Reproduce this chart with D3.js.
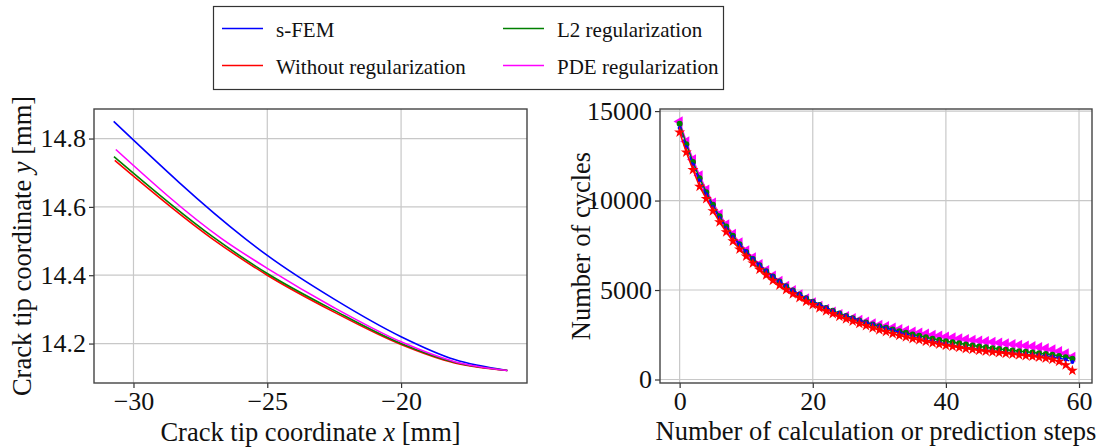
<!DOCTYPE html>
<html>
<head>
<meta charset="utf-8">
<script src="https://cdn.jsdelivr.net/npm/d3@7/dist/d3.min.js"></script>
<style>
  html, body { margin: 0; padding: 0; background: #fff; }
  svg { display: block; }
  svg text { font-family: "Liberation Serif", "Times New Roman", serif !important; fill: #111; }
</style>
</head>
<body>
<svg id="chart" width="1105" height="448"></svg>
<script>
// ---- Series names and colours ----
const seriesNames = ["s-FEM", "Without regularization", "L2 regularization", "PDE regularization"];
const seriesColors = ["#0000ff", "#ff0000", "#008000", "#ff00ff"];

// ---- Left panel: crack tip path (x, y in mm) ----
const pathX_sfem = [-30.74, -25.84, -25.0, -22.5, -20.0, -18.0, -16.03];
const pathY_sfem = [14.850, 14.508, 14.458, 14.330, 14.220, 14.153, 14.121];
const pathX_noreg = [-30.70, -27.08, -25.0, -22.5, -20.0, -18.0, -16.03];
const pathY_noreg = [14.736, 14.508, 14.400, 14.292, 14.197, 14.143, 14.121];
const pathX_l2 = [-30.73, -27.03, -25.0, -22.5, -20.0, -18.0, -16.03];
const pathY_l2 = [14.747, 14.512, 14.405, 14.297, 14.200, 14.145, 14.121];
const pathX_pde = [-30.66, -26.72, -25.0, -22.5, -20.0, -18.0, -16.03];
const pathY_pde = [14.768, 14.508, 14.420, 14.305, 14.205, 14.147, 14.121];

const leftXTicks = [-30, -25, -20];
const leftYTicks = [14.2, 14.4, 14.6, 14.8];

// ---- Right panel: number of cycles per step ----
const cycles_sfem = [14050, 12980, 12000, 11120, 10350, 9650, 9020, 8450, 7970, 7540,
  7150, 6760, 6400, 6070, 5770, 5490, 5230, 4990, 4770, 4560,
  4370, 4190, 4020, 3860, 3710, 3570, 3440, 3310, 3190, 3080,
  2970, 2870, 2770, 2640, 2530, 2430, 2330, 2240, 2150, 2070,
  1990, 1920, 1850, 1790, 1730, 1680, 1630, 1590, 1550, 1510,
  1480, 1450, 1420, 1390, 1360, 1320, 1270, 1200, 1110, 980];
const cycles_noreg = [13820, 12700, 11720, 10780, 10100, 9420, 8800, 8240, 7730, 7280,
  6880, 6500, 6150, 5830, 5530, 5260, 5010, 4780, 4560, 4360,
  4170, 3990, 3830, 3670, 3520, 3380, 3250, 3120, 3000, 2880,
  2770, 2660, 2560, 2460, 2370, 2280, 2200, 2120, 2040, 1970,
  1900, 1840, 1780, 1720, 1670, 1620, 1570, 1530, 1490, 1450,
  1410, 1370, 1330, 1290, 1240, 1190, 1110, 1000, 810, 500];
const cycles_l2 = [14290, 13150, 12150, 11250, 10470, 9760, 9120, 8550, 8030, 7560,
  7130, 6740, 6380, 6050, 5750, 5470, 5210, 4970, 4750, 4540,
  4350, 4170, 4000, 3840, 3690, 3550, 3420, 3300, 3190, 3080,
  2980, 2890, 2800, 2700, 2610, 2520, 2440, 2360, 2280, 2210,
  2140, 2080, 2020, 1960, 1900, 1850, 1800, 1750, 1700, 1660,
  1620, 1580, 1550, 1510, 1470, 1430, 1380, 1320, 1250, 1160];
const cycles_pde = [14420, 13300, 12300, 11400, 10600, 9880, 9240, 8660, 8130, 7650,
  7210, 6810, 6440, 6100, 5790, 5500, 5230, 4980, 4750, 4520,
  4300, 4110, 3940, 3790, 3650, 3530, 3420, 3320, 3220, 3130,
  3050, 2970, 2890, 2810, 2740, 2670, 2610, 2550, 2490, 2440,
  2390, 2340, 2290, 2250, 2210, 2170, 2130, 2090, 2050, 2010,
  1970, 1930, 1890, 1850, 1800, 1740, 1670, 1580, 1450, 1260];

const rightXTicks = [0, 20, 40, 60];
const rightYTicks = [0, 5000, 10000, 15000];

// ---- Layout ----
const svg = d3.select("#chart");
const SERIF = '"Liberation Serif", "Times New Roman", serif';
const TICK_FONT = 26, LABEL_FONT = 26.5, LEGEND_FONT = 21;
const left = { x0: 94, x1: 527, y0: 109, y1: 383 };
const right = { x0: 660, x1: 1092, y0: 109, y1: 383 };

// matplotlib-style 5% margin around the data extent
function padded(values) {
  const [a, b] = d3.extent(values);
  const m = (b - a) * 0.05;
  return [a - m, b + m];
}

function drawFrame(box, xScale, yScale, xTicks, yTicks, fmtX, fmtY) {
  const g = svg.append("g");
  g.selectAll(".gx").data(xTicks).join("line")
    .attr("x1", d => xScale(d)).attr("x2", d => xScale(d))
    .attr("y1", box.y0).attr("y2", box.y1)
    .attr("stroke", "#c8c8c8").attr("stroke-width", 1.2);
  g.selectAll(".gy").data(yTicks).join("line")
    .attr("x1", box.x0).attr("x2", box.x1)
    .attr("y1", d => yScale(d)).attr("y2", d => yScale(d))
    .attr("stroke", "#c8c8c8").attr("stroke-width", 1.2);

  const xAxis = d3.axisBottom(xScale).tickValues(xTicks).tickSize(5).tickPadding(4).tickFormat(fmtX);
  const yAxis = d3.axisLeft(yScale).tickValues(yTicks).tickSize(5).tickPadding(3).tickFormat(fmtY);
  const ax = svg.append("g").attr("transform", `translate(0,${box.y1})`).call(xAxis);
  const ay = svg.append("g").attr("transform", `translate(${box.x0},0)`).call(yAxis);
  [ax, ay].forEach(a => {
    a.attr("font-family", SERIF).attr("font-size", TICK_FONT);
    a.select(".domain").remove();
    a.selectAll(".tick line").attr("stroke", "#333").attr("stroke-width", 1.2);
    a.selectAll(".tick text")
      .style("font-family", SERIF)
      .attr("font-size", TICK_FONT).attr("fill", "#111");
  });
}

function drawBorder(box) {
  svg.append("rect")
    .attr("x", box.x0).attr("y", box.y0)
    .attr("width", box.x1 - box.x0).attr("height", box.y1 - box.y0)
    .attr("fill", "none").attr("stroke", "#444").attr("stroke-width", 1.4);
}

function label(text) {
  return svg.append("text").style("font-family", SERIF).attr("font-size", LABEL_FONT)
    .attr("text-anchor", "middle").html(text);
}

const minusFmt = d => d3.format("")(d).replace("-", "\u2212");

// ================= Left panel =================
const leftPaths = [
  { xs: pathX_sfem, ys: pathY_sfem, c: seriesColors[0] },
  { xs: pathX_noreg, ys: pathY_noreg, c: seriesColors[1] },
  { xs: pathX_l2, ys: pathY_l2, c: seriesColors[2] },
  { xs: pathX_pde, ys: pathY_pde, c: seriesColors[3] }
];
const lx = d3.scaleLinear().domain(padded(leftPaths.flatMap(p => p.xs))).range([left.x0, left.x1]);
const ly = d3.scaleLinear().domain(padded(leftPaths.flatMap(p => p.ys))).range([left.y1, left.y0]);

drawFrame(left, lx, ly, leftXTicks, leftYTicks, minusFmt, d3.format(".1f"));

const lineL = d3.line().x(d => lx(d[0])).y(d => ly(d[1])).curve(d3.curveMonotoneX);
const leftG = svg.append("g");
leftPaths.forEach(p => {
  leftG.append("path")
    .datum(d3.zip(p.xs, p.ys))
    .attr("d", lineL)
    .attr("fill", "none").attr("stroke", p.c).attr("stroke-width", 1.6);
});
drawBorder(left);

label('Crack tip coordinate <tspan font-style="italic">x</tspan> [mm]')
  .attr("x", (left.x0 + left.x1) / 2).attr("y", 441);
label('Crack tip coordinate <tspan font-style="italic">y</tspan> [mm]')
  .attr("transform", `translate(31,${(left.y0 + left.y1) / 2}) rotate(-90)`);

// ================= Right panel =================
const steps = d3.range(cycles_sfem.length);
const allCycles = [cycles_sfem, cycles_noreg, cycles_l2, cycles_pde].flat();
const rx = d3.scaleLinear().domain(padded(steps)).range([right.x0, right.x1]);
const ry = d3.scaleLinear().domain(padded(allCycles)).range([right.y1, right.y0]);

drawFrame(right, rx, ry, rightXTicks, rightYTicks, d3.format("d"), d3.format("d"));

const lineR = d3.line().x((d, i) => rx(i)).y(d => ry(d));
const rightG = svg.append("g");

function series(values, color, symbolType, size, rotate, dashed) {
  const g = rightG.append("g");
  g.append("path").datum(values).attr("d", lineR)
    .attr("fill", "none").attr("stroke", color).attr("stroke-width", 1.5)
    .attr("stroke-dasharray", dashed ? "4,2" : null);
  const sym = d3.symbol().type(symbolType).size(size);
  g.selectAll("path.m").data(values).join("path")
    .attr("class", "m")
    .attr("d", sym)
    .attr("transform", (d, i) => `translate(${rx(i)},${ry(d)}) rotate(${rotate})`)
    .attr("fill", color);
}

series(cycles_pde, seriesColors[3], d3.symbolTriangle, 48, -90, false);
series(cycles_l2, seriesColors[2], d3.symbolCircle, 28, 0, false);
series(cycles_sfem, seriesColors[0], d3.symbolCircle, 13, 0, true);
series(cycles_noreg, seriesColors[1], d3.symbolStar, 38, 0, false);

drawBorder(right);

label("Number of calculation or prediction steps")
  .attr("x", (right.x0 + right.x1) / 2).attr("y", 440);
label("Number of cycles")
  .attr("transform", `translate(590,${(right.y0 + right.y1) / 2}) rotate(-90)`);

// ================= Legend =================
const legend = svg.append("g");
legend.append("rect")
  .attr("x", 213.5).attr("y", 6.5).attr("width", 510).attr("height", 83)
  .attr("fill", "#fff").attr("stroke", "#333").attr("stroke-width", 1.2);
const legendItems = [
  { name: seriesNames[0], c: seriesColors[0], col: 0, row: 0 },
  { name: seriesNames[1], c: seriesColors[1], col: 0, row: 1 },
  { name: seriesNames[2], c: seriesColors[2], col: 1, row: 0 },
  { name: seriesNames[3], c: seriesColors[3], col: 1, row: 1 }
];
const colX = [222, 503];
const rowY = [28.5, 65.5];
legendItems.forEach(it => {
  const x = colX[it.col], y = rowY[it.row];
  legend.append("line")
    .attr("x1", x).attr("x2", x + 41).attr("y1", y).attr("y2", y)
    .attr("stroke", it.c).attr("stroke-width", 1.6);
  legend.append("text")
    .style("font-family", SERIF)
    .attr("x", x + 54).attr("y", y + 8)
    .attr("font-size", LEGEND_FONT)
    .text(it.name);
});
</script>
</body>
</html>
